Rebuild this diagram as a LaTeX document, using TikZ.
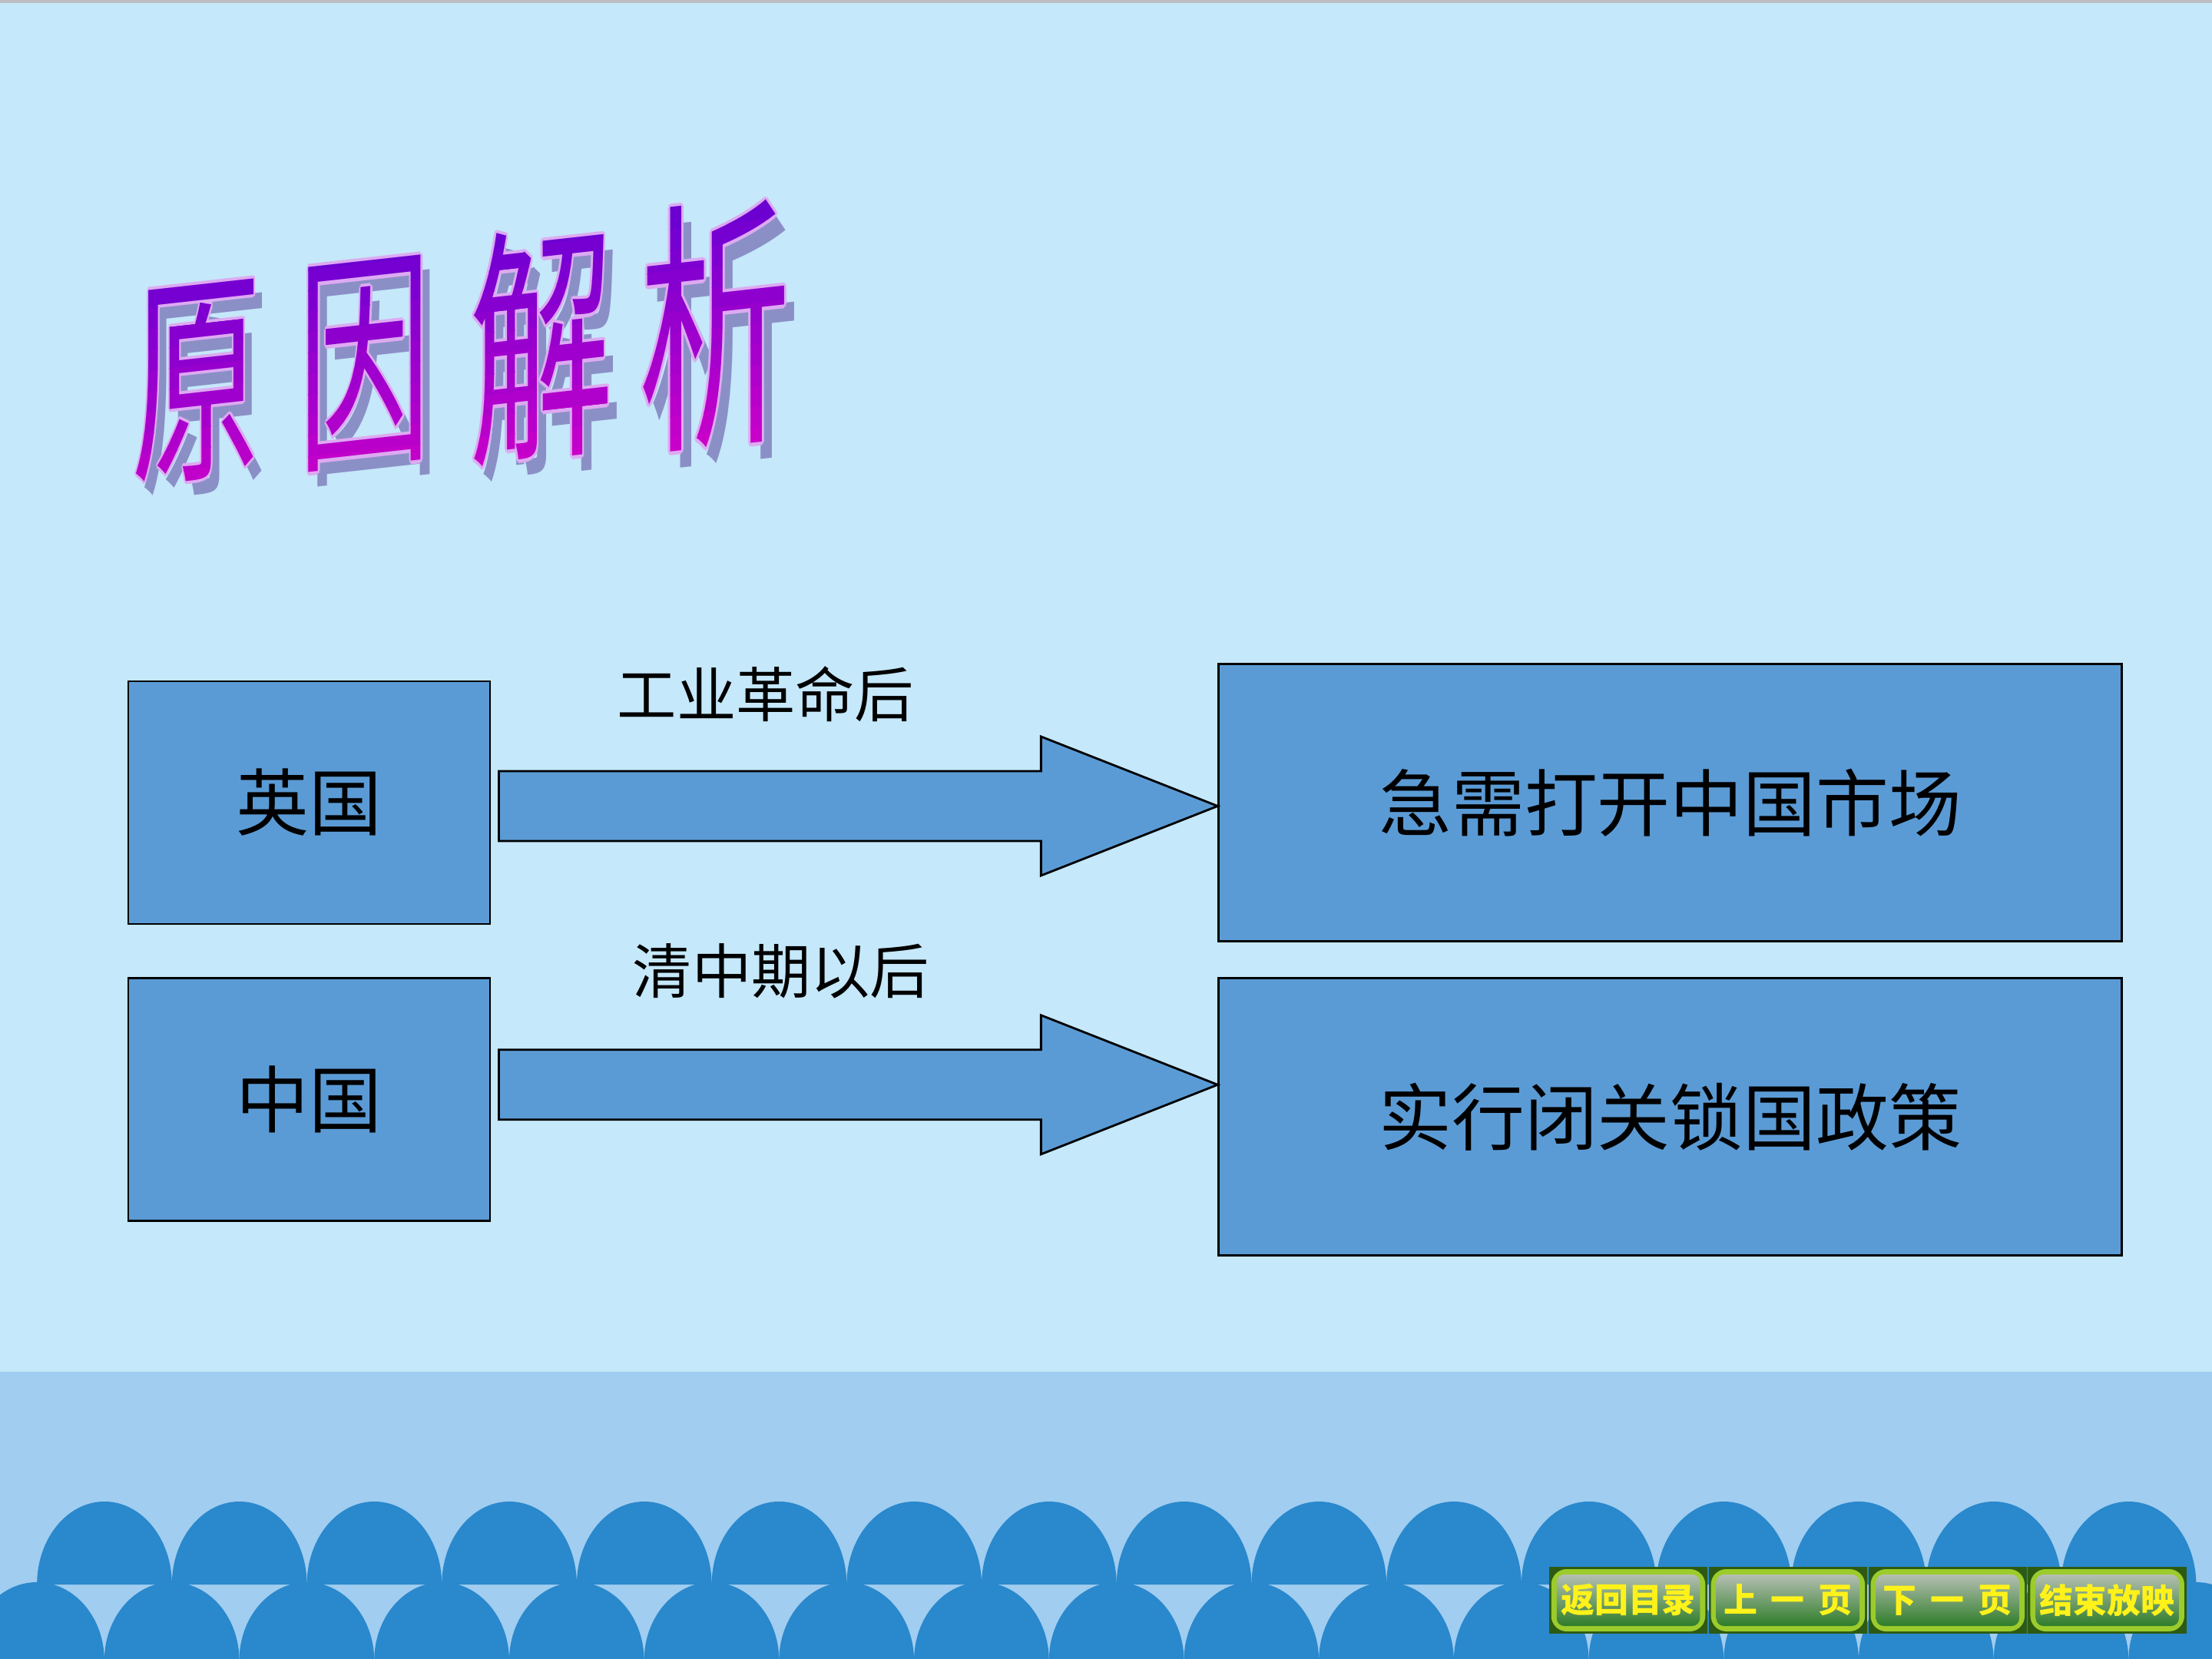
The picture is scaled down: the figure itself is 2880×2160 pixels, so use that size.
\documentclass[tikz,border=0pt]{standalone}
\usepackage{fontspec}
\usepackage{xcolor}
\usepackage{tikz}
\usetikzlibrary{positioning,calc}
\newfontfamily\cjk{Noto Sans CJK SC}
\definecolor{SlideSky}{HTML}{C5E8FA}
\definecolor{SlideBand}{HTML}{A0CDF0}
\definecolor{SlideWave}{HTML}{2A88CC}
\definecolor{SlideEdge}{HTML}{BDBEC2}
\definecolor{BoxBlue}{HTML}{5B9BD5}
\definecolor{TitlePur}{HTML}{6400D2}
\definecolor{TitleMag}{HTML}{D200C8}
\definecolor{TitleGlow}{HTML}{DDAAF2}
\definecolor{TitleShade}{HTML}{8A90C6}
\definecolor{BtnLime}{HTML}{9CCB2C}
\definecolor{BtnDark}{HTML}{2D5A12}
\definecolor{BtnSilver}{HTML}{B5BFB2}
\definecolor{BtnDeep}{HTML}{06481A}
\definecolor{BtnMoss}{HTML}{2F7D2A}
\definecolor{BtnText}{HTML}{FFF21A}

\begin{document}
\begin{tikzpicture}[x=0.1mm,y=-0.1mm,
  box/.style={draw=black,line width=0.8pt,fill=BoxBlue,inner sep=0pt,
              font=\cjk\fontsize{27}{32}\selectfont},
  smallbox/.style={box,minimum width=47.1mm,minimum height=31.6mm},
  widebox/.style={box,minimum width=117.6mm,minimum height=36.1mm},
  bigarrow/.style={draw=black,line width=0.8pt,fill=BoxBlue},
  cue/.style={font=\cjk\fontsize{22}{26}\selectfont},
  wordart/.style={font=\cjk\fontsize{62}{62}\selectfont,inner sep=0pt,
                  transform shape,xscale=0.86,yscale=1.5},
  navbtn/.style={fill=BtnDark,minimum width=20.65mm,minimum height=8.7mm,inner sep=0pt,
                 text=BtnText,font=\cjk\bfseries\fontsize{12.5}{15}\selectfont,
                 path picture={
                   \fill[BtnLime,rounded corners=2mm]
                     ($(path picture bounding box.north west)+(3,3)$) rectangle
                     ($(path picture bounding box.south east)+(-3,-3)$);
                   \shade[top color=BtnSilver,middle color=BtnDeep,bottom color=BtnMoss,rounded corners=1mm]
                     ($(path picture bounding box.north west)+(10,10)$) rectangle
                     ($(path picture bounding box.south east)+(-10,-10)$);}}
]
\useasboundingbox (0,0) rectangle (2880,2160);
\clip (0,0) rectangle (2880,2160);

% slide background
\fill[SlideSky] (0,0) rectangle (2880,2160);
\fill[SlideEdge] (0,0) rectangle (2880,4);
\fill[SlideBand] (0,1786) rectangle (2880,2160);
\foreach \k in {0,...,15}{\fill[SlideWave] ({136+175.7*\k-87.85},2063) arc[start angle=180,end angle=360,x radius=87.85,y radius=108];}
\foreach \k in {0,...,16}{\fill[SlideWave] ({48+175.7*\k-87.85},2162) arc[start angle=180,end angle=360,x radius=87.85,y radius=102];}

% title
\begin{scope}[shift={(600,460)},yslant=0.111]
  \foreach \c/\x/\s in {原/-344/0.9,因/-125/0.93,解/105/1.0,析/331/1.06}{
    \node[wordart,scale=\s,text=TitleShade,xshift=1.4mm,yshift=-1.4mm] at (\x,0) {\c};
    \foreach \dx/\dy in {0.3mm/0mm,-0.3mm/0mm,0mm/0.3mm,0mm/-0.3mm,0.2mm/0.2mm,0.2mm/-0.2mm,-0.2mm/0.2mm,-0.2mm/-0.2mm}
      {\node[wordart,scale=\s,text=TitleGlow,xshift=\dx,yshift=\dy] at (\x,0) {\c};}
  }
  \foreach \i in {0,...,13}{
    \pgfmathsetmacro\p{100*\i/13}
    \begin{scope}
      \clip (-560,{-185+27*\i}) rectangle (560,{-157+27*\i});
      \foreach \c/\x/\s in {原/-344/0.9,因/-125/0.93,解/105/1.0,析/331/1.06}
        {\node[wordart,scale=\s,text=TitleMag!\p!TitlePur] at (\x,0) {\c};}
    \end{scope}
  }
\end{scope}

% cause diagram
\node[smallbox] (uk) at (402.5,1045) {英国};
\node[widebox,right=94.6mm of uk] (need) {急需打开中国市场};
\node[smallbox,below=6.8mm of uk] (cn) {中国};
\node[widebox,anchor=north west] (policy) at (cn.north -| need.west) {实行闭关锁国政策};
\coordinate (a1) at ($(uk.east)+(10,4.5)$);
\coordinate (a2) at ($(cn.east)+(10,-19.5)$);
\coordinate (t1) at (a1 -| need.west);
\coordinate (t2) at (a2 -| policy.west);
\foreach \s/\t in {a1/t1,a2/t2}{
  \draw[bigarrow] ($(\s)+(0,-45.5)$) -| ($(\t)+(-230,-90.5)$) -- (\t)
    -- ($(\t)+(-230,90.5)$) |- ($(\s)+(0,45.5)$) -- cycle;}
\node[cue] (lab1) at (997,904) {工业革命后};
\node[cue] (lab2) at (1017,1264) {清中期以后};

% navigation buttons
\node[navbtn] (nav1) at (2120,2083.5) {返回目录};
\node[navbtn,right=0mm of nav1] (nav2) {上\hspace{1.8mm}一\hspace{1.8mm}页};
\node[navbtn,right=0mm of nav2] (nav3) {下\hspace{1.8mm}一\hspace{1.8mm}页};
\node[navbtn,right=0mm of nav3] (nav4) {结束放映};
\end{tikzpicture}
\end{document}
